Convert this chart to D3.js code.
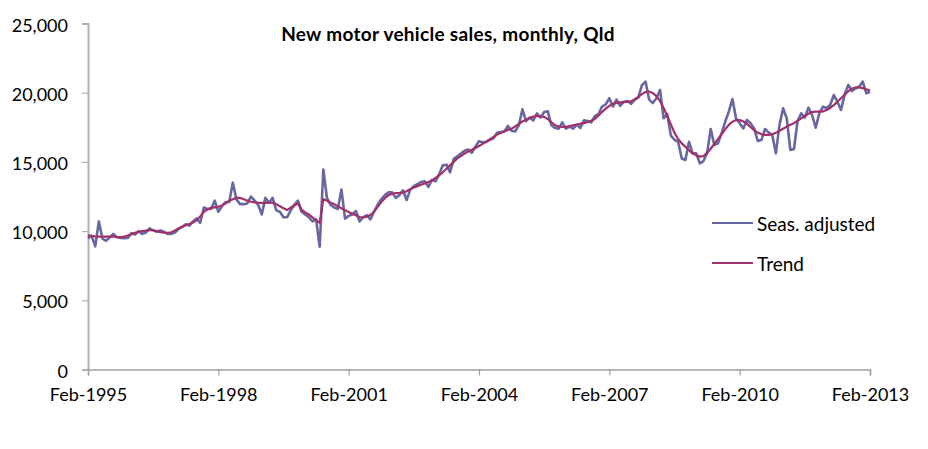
<!DOCTYPE html>
<html>
<head>
<meta charset="utf-8">
<script src="https://cdn.jsdelivr.net/npm/d3@7"></script>
<style>
  body { margin: 0; background: #fff; }
  svg text { font-family: Lato, "Open Sans", sans-serif; fill: #000; }
</style>
</head>
<body>
<svg id="chart"></svg>
<script>
// monthly, Feb-1995 .. Feb-2013 (217 months)
const seasAdjusted = [
  9500, 9650, 8900, 10700, 9450, 9300, 9550, 9800, 9550, 9500,
  9480, 9500, 9850, 9750, 10000, 9800, 9900, 10200, 10050, 9950,
  10050, 9950, 9800, 9800, 9900, 10150, 10300, 10500, 10400, 10700,
  10900, 10600, 11700, 11600, 11600, 12200, 11400, 11800, 12100, 12100,
  13500, 12300, 11950, 11950, 12000, 12500, 12200, 11900, 11200, 12400,
  12050, 12400, 11500, 11400, 11000, 11000, 11500, 11900, 12200, 11400,
  11200, 11000, 10700, 10850, 8870, 14450, 12400, 11900, 11700, 11600,
  13000, 10900, 11100, 11200, 11450, 10700, 11000, 11150, 10850, 11400,
  11900, 12300, 12600, 12800, 12800, 12400, 12600, 12950, 12250, 13000,
  13250, 13400, 13550, 13600, 13200, 13700, 13600, 14100, 14750, 14800,
  14250, 15200, 15400, 15600, 15800, 15900, 15650, 16100, 16500, 16400,
  16460, 16600, 16700, 17100, 17150, 17200, 17600, 17250, 17200, 17650,
  18800, 17950, 18200, 18000, 18500, 18200, 18600, 18650, 17650, 17450,
  17400, 17850, 17400, 17550, 17400, 17700, 17450, 18000, 17950, 17850,
  18300, 18450, 19000, 19150, 19600, 19000, 19500, 19050, 19350, 19400,
  19200, 19500, 19650, 20550, 20800, 19500, 19250, 19600, 20200, 18150,
  18450, 16900, 16600, 16450, 15250, 15140, 16460, 15620, 15620, 14890,
  15060, 15620, 17380, 16220, 16340, 17060, 17900, 18630, 19540, 18150,
  17790, 17420, 18030, 17790, 17420, 16510, 16580, 17380, 17130, 16940,
  15620, 17670, 18870, 18150, 15860, 15930, 17950, 18510, 18200, 18920,
  18390, 17470, 18510, 18990, 18900, 19100, 19830, 19350, 18750, 19880,
  20560, 20120, 20300, 20440, 20800, 19950, 20070
];

const trend = [
  9700, 9650, 9620, 9600, 9600, 9600, 9600, 9600, 9580, 9570,
  9600, 9680, 9780, 9870, 9950, 10000, 10040, 10070, 10060, 10000,
  9930, 9880, 9870, 9920, 10050, 10200, 10320, 10420, 10520, 10620,
  10800, 11050, 11400, 11580, 11680, 11720, 11760, 11850, 12000, 12180,
  12300, 12400, 12400, 12300, 12200, 12120, 12080, 12050, 12040, 12040,
  12050, 12050, 11950, 11800, 11650, 11520, 11700, 11850, 12000, 11550,
  11350, 11200, 11000, 10800, 10600, 12300, 12200, 12050, 11950, 11800,
  11650, 11500, 11380, 11260, 11150, 11020, 10980, 11050, 11160, 11400,
  11750, 12100, 12380, 12600, 12700, 12750, 12760, 12780, 12880, 13020,
  13150, 13250, 13350, 13450, 13550, 13650, 13850, 14050, 14250, 14500,
  14750, 15000, 15250, 15420, 15600, 15750, 15880, 16000, 16150, 16300,
  16450, 16620, 16800, 16970, 17100, 17200, 17300, 17400, 17560, 17750,
  17920, 18050, 18180, 18280, 18320, 18300, 18250, 18100, 17850, 17650,
  17560, 17520, 17530, 17580, 17640, 17700, 17760, 17800, 17880, 17980,
  18100, 18350, 18600, 18850, 19050, 19200, 19280, 19300, 19320, 19330,
  19380, 19500, 19700, 19900, 20050, 20080, 19980, 19750, 19400, 18900,
  18300, 17700, 17100, 16650, 16340, 16100, 15850, 15620, 15480, 15380,
  15420, 15650, 15950, 16300, 16650, 17000, 17350, 17680, 17900, 18020,
  18020, 17930, 17750, 17520, 17300, 17120, 17000, 16950, 16950, 17000,
  17100, 17250, 17400, 17550, 17680, 17800, 17970, 18150, 18330, 18480,
  18600, 18630, 18630, 18650, 18750, 18900, 19100, 19350, 19600, 19850,
  20100, 20300, 20380, 20380, 20330, 20250, 20150
];

const tickMonths = [0, 36, 72, 108, 144, 180, 216];
const tickLabels = ["Feb-1995", "Feb-1998", "Feb-2001", "Feb-2004", "Feb-2007", "Feb-2010", "Feb-2013"];
const yTicks = [0, 5000, 10000, 15000, 20000, 25000];
const seriesNames = ["Seas. adjusted", "Trend"];

const W = 928, H = 449;
const colSA = "#6767a1", colTrend = "#a33068";

const svg = d3.select("#chart").attr("width", W).attr("height", H);

const x = d3.scaleLinear().domain([0, 216]).range([88, 870]);
const y = d3.scaleLinear().domain([0, 25000]).range([369.5, 23.5]);

// y axis
const yAxis = svg.append("g")
    .attr("transform", "translate(88,0)")
    .call(d3.axisLeft(y).tickValues(yTicks).tickSize(6).tickPadding(14)
        .tickFormat(d3.format(",")));
yAxis.select(".domain").attr("stroke", "#b0b0b0").attr("stroke-width", 2);
yAxis.selectAll(".tick line").attr("stroke", "#b0b0b0").attr("stroke-width", 1.2);
yAxis.selectAll("text").style("font-size", "18px").attr("dy", "0.42em");

// x axis
const xAxis = svg.append("g")
    .attr("transform", "translate(0,369.5)")
    .call(d3.axisBottom(x).tickValues(tickMonths).tickSize(6).tickPadding(13)
        .tickFormat((d, i) => tickLabels[i]));
xAxis.select(".domain").attr("stroke", "#a0a0a0").attr("stroke-width", 1.5);
xAxis.selectAll(".tick line").attr("stroke", "#a0a0a0").attr("stroke-width", 1.2);
xAxis.selectAll("text").style("font-size", "18px");

const line = d3.line().x((d, i) => x(i)).y(d => y(d));

svg.append("path").datum(seasAdjusted)
    .attr("fill", "none").attr("stroke", colSA)
    .attr("stroke-width", 2.6).attr("stroke-linejoin", "round")
    .attr("d", line);

svg.append("path").datum(trend)
    .attr("fill", "none").attr("stroke", colTrend)
    .attr("stroke-width", 2.2).attr("stroke-linejoin", "round")
    .attr("d", line);

// title
svg.append("text")
    .attr("x", 448).attr("y", 41)
    .attr("text-anchor", "middle")
    .style("font-size", "19px").style("font-weight", "bold")
    .style("letter-spacing", "0.3px")
    .text("New motor vehicle sales, monthly, Qld");

// legend
const legend = svg.append("g").selectAll("g")
    .data(seriesNames)
    .enter().append("g")
    .attr("transform", (d, i) => `translate(712,${223 + i * 40})`);
legend.append("line")
    .attr("x1", 0).attr("x2", 41)
    .attr("stroke", (d, i) => i === 0 ? colSA : colTrend)
    .attr("stroke-width", 2);
legend.append("text")
    .attr("x", 45).attr("y", 8)
    .style("font-size", "19px")
    .text(d => d);
</script>
</body>
</html>
